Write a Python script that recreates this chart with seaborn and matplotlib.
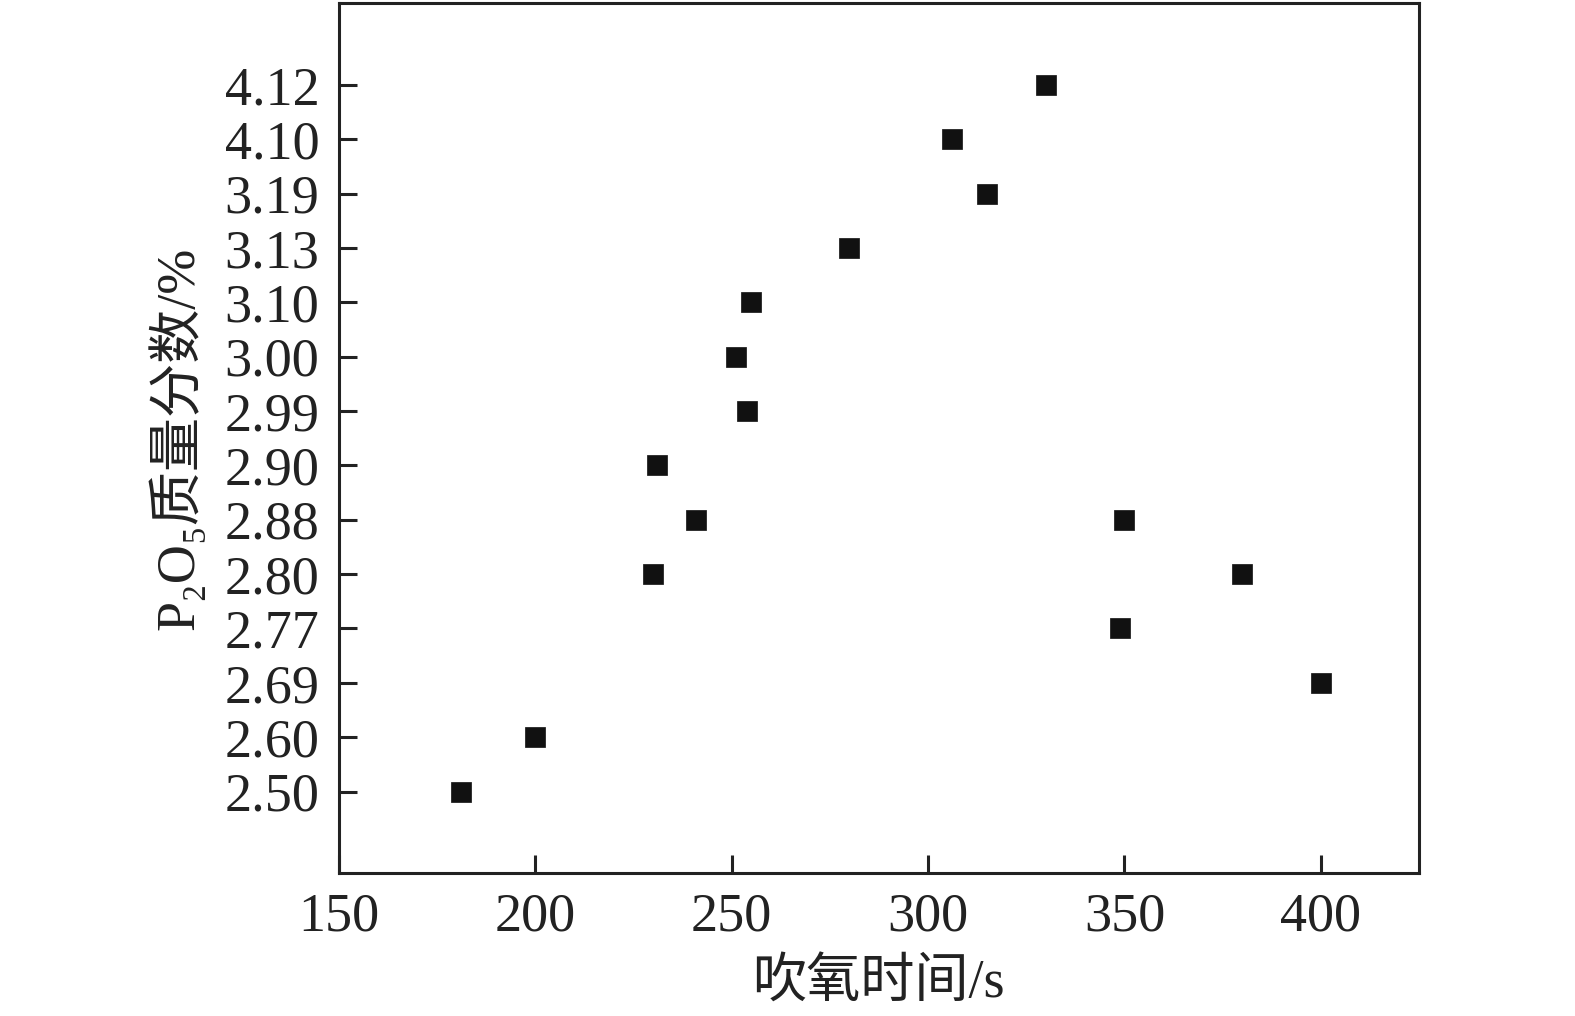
import pandas as pd
import matplotlib
matplotlib.use("Agg")
import matplotlib.pyplot as plt
import seaborn as sns

# 吹氧时间 (s) 与 P2O5 质量分数 (%) 的测点
blow_time = [181, 200, 230, 231, 241, 254, 251, 255, 280, 306, 315, 330, 350, 349, 380, 400]
p2o5 = ["2.50", "2.60", "2.80", "2.90", "2.88", "2.99", "3.00", "3.10", "3.13",
        "4.10", "3.19", "4.12", "2.88", "2.77", "2.80", "2.69"]

# y 轴刻度顺序 (自下而上)
y_levels = ["2.50", "2.60", "2.69", "2.77", "2.80", "2.88", "2.90", "2.99",
            "3.00", "3.10", "3.13", "3.19", "4.10", "4.12"]
x_ticks = [150, 200, 250, 300, 350, 400]

df = pd.DataFrame({"t": blow_time,
                   "p": pd.Categorical(p2o5, categories=y_levels, ordered=True)})

sns.set_style("ticks")
plt.rcParams["font.family"] = ["Liberation Serif", "DejaVu Serif", "Noto Sans CJK SC"]

fig = plt.figure(figsize=(15.75, 10.16), dpi=100)
ax = fig.add_axes([0.2152, 0.1407, 0.6857, 0.856])

sns.scatterplot(data=df, x="t", y="p", marker="s", s=200, color="#111111",
                edgecolor="#111111", linewidth=0.5, ax=ax, legend=False)

ax.set_xlim(150, 425)
ax.set_ylim(-1.5, 14.5)
ax.set_xticks(x_ticks)
ax.set_yticks(range(len(y_levels)))
ax.set_yticklabels(y_levels)

for sp in ax.spines.values():
    sp.set_linewidth(2.2)
    sp.set_color("#222222")
ax.tick_params(direction="in", length=13, width=2.2, color="#222222",
               labelsize=39, labelcolor="#222222")
ax.tick_params(axis="y", pad=14)
ax.tick_params(axis="x", pad=14)

ax.set_xlabel("吹氧时间/s", fontsize=39, color="#222222", labelpad=12)
ax.set_ylabel("P₂O₅质量分数/%", fontsize=39, color="#222222", labelpad=14)

fig.savefig("out.png", dpi=100)
